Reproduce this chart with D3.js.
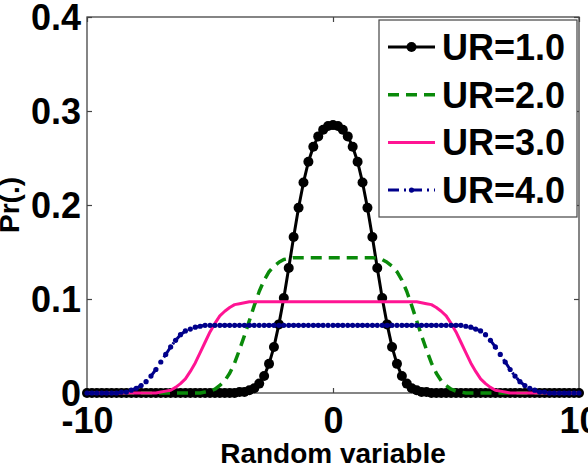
<!DOCTYPE html>
<html>
<head>
<meta charset="utf-8">
<script src="https://cdn.jsdelivr.net/npm/d3@7"></script>
<style>
  body { margin: 0; background: #fff; }
  svg { display: block; font-family: "Liberation Sans", Arial, Helvetica, sans-serif; font-weight: bold; }
</style>
</head>
<body>
<svg width="588" height="466"></svg>
<script>
// sample points along the random variable axis
const xs = [
  -10, -9.8, -9.6, -9.4, -9.2, -9, -8.8, -8.6, -8.4, -8.2,
  -8, -7.8, -7.6, -7.4, -7.2, -7, -6.8, -6.6, -6.4, -6.2,
  -6, -5.8, -5.6, -5.4, -5.2, -5, -4.8, -4.6, -4.4, -4.2,
  -4, -3.8, -3.6, -3.4, -3.2, -3, -2.8, -2.6, -2.4, -2.2,
  -2, -1.8, -1.6, -1.4, -1.2, -1, -0.8, -0.6, -0.4, -0.2,
  0,
  0.2, 0.4, 0.6, 0.8, 1, 1.2, 1.4, 1.6, 1.8, 2,
  2.2, 2.4, 2.6, 2.8, 3, 3.2, 3.4, 3.6, 3.8, 4,
  4.2, 4.4, 4.6, 4.8, 5, 5.2, 5.4, 5.6, 5.8, 6,
  6.2, 6.4, 6.6, 6.8, 7, 7.2, 7.4, 7.6, 7.8, 8,
  8.2, 8.4, 8.6, 8.8, 9, 9.2, 9.4, 9.6, 9.8, 10
];

const ur1 = [
  0, 0, 0, 0, 0, 0, 0, 0, 0, 0,
  0, 0, 0, 0, 0, 0, 0, 0, 0, 0,
  0, 0, 0, 0, 0, 0, 0, 0, 0, 0,
  0, 0.001, 0.001, 0.003, 0.005, 0.010, 0.018, 0.031, 0.049, 0.073,
  0.101, 0.133, 0.166, 0.197, 0.224, 0.246, 0.262, 0.273, 0.280, 0.284,
  0.285,
  0.284, 0.280, 0.273, 0.262, 0.246, 0.224, 0.197, 0.166, 0.133, 0.101,
  0.073, 0.049, 0.031, 0.018, 0.010, 0.005, 0.003, 0.001, 0.001, 0,
  0, 0, 0, 0, 0, 0, 0, 0, 0, 0,
  0, 0, 0, 0, 0, 0, 0, 0, 0, 0,
  0, 0, 0, 0, 0, 0, 0, 0, 0, 0
];

const ur2 = [
  0, 0, 0, 0, 0, 0, 0, 0, 0, 0,
  0, 0, 0, 0, 0, 0, 0, 0, 0, 0,
  0, 0, 0, 0, 0.001, 0.002, 0.004, 0.008, 0.013, 0.021,
  0.032, 0.046, 0.061, 0.077, 0.093, 0.108, 0.120, 0.129, 0.135, 0.139,
  0.142, 0.143, 0.144, 0.144, 0.144, 0.144, 0.144, 0.144, 0.144, 0.144,
  0.144,
  0.144, 0.144, 0.144, 0.144, 0.144, 0.144, 0.144, 0.144, 0.143, 0.142,
  0.139, 0.135, 0.129, 0.120, 0.108, 0.093, 0.077, 0.061, 0.046, 0.032,
  0.021, 0.013, 0.008, 0.004, 0.002, 0.001, 0, 0, 0, 0,
  0, 0, 0, 0, 0, 0, 0, 0, 0, 0,
  0, 0, 0, 0, 0, 0, 0, 0, 0, 0
];

const ur3 = [
  0, 0, 0, 0, 0, 0, 0, 0, 0, 0,
  0, 0, 0, 0, 0, 0.001, 0.002, 0.003, 0.006, 0.010,
  0.015, 0.023, 0.032, 0.043, 0.054, 0.065, 0.074, 0.082, 0.087, 0.091,
  0.094, 0.095, 0.096, 0.097, 0.097, 0.097, 0.097, 0.097, 0.097, 0.097,
  0.097, 0.097, 0.097, 0.097, 0.097, 0.097, 0.097, 0.097, 0.097, 0.097,
  0.097,
  0.097, 0.097, 0.097, 0.097, 0.097, 0.097, 0.097, 0.097, 0.097, 0.097,
  0.097, 0.097, 0.097, 0.097, 0.097, 0.097, 0.097, 0.096, 0.095, 0.094,
  0.091, 0.087, 0.082, 0.074, 0.065, 0.054, 0.043, 0.032, 0.023, 0.015,
  0.010, 0.006, 0.003, 0.002, 0.001, 0, 0, 0, 0, 0,
  0, 0, 0, 0, 0, 0, 0, 0, 0, 0
];

const ur4 = [
  0, 0, 0, 0, 0, 0, 0, 0.001, 0.001, 0.003,
  0.005, 0.008, 0.012, 0.018, 0.025, 0.033, 0.041, 0.049, 0.056, 0.062,
  0.066, 0.068, 0.070, 0.071, 0.072, 0.072, 0.072, 0.072, 0.072, 0.072,
  0.072, 0.072, 0.072, 0.072, 0.072, 0.072, 0.072, 0.072, 0.072, 0.072,
  0.072, 0.072, 0.072, 0.072, 0.072, 0.072, 0.072, 0.072, 0.072, 0.072,
  0.072,
  0.072, 0.072, 0.072, 0.072, 0.072, 0.072, 0.072, 0.072, 0.072, 0.072,
  0.072, 0.072, 0.072, 0.072, 0.072, 0.072, 0.072, 0.072, 0.072, 0.072,
  0.072, 0.072, 0.072, 0.072, 0.072, 0.072, 0.071, 0.070, 0.068, 0.066,
  0.062, 0.056, 0.049, 0.041, 0.033, 0.025, 0.018, 0.012, 0.008, 0.005,
  0.003, 0.001, 0.001, 0, 0, 0, 0, 0, 0, 0
];

const labels = ["UR=1.0", "UR=2.0", "UR=3.0", "UR=4.0"];
const xTicks = [-10, 0, 10];
const yTicks = [0, 0.1, 0.2, 0.3, 0.4];

const series = [
  { name: labels[0], values: ur1, color: "#000000", dash: null, marker: 5, width: 3 },
  { name: labels[1], values: ur2, color: "#0a8a0a", dash: "11,7", marker: 0, width: 3.5 },
  { name: labels[2], values: ur3, color: "#ff1493", dash: null, marker: 0, width: 3 },
  { name: labels[3], values: ur4, color: "#00008b", dash: "11,5,2,5", marker: 2.6, width: 3 }
];

const svg = d3.select("svg");
const mLeft = 87, mRight = 579, mTop = 17, mBottom = 393;

const x = d3.scaleLinear().domain([-10, 10]).range([mLeft, mRight]);
const y = d3.scaleLinear().domain([0, 0.4]).range([mBottom, mTop]);

// axes box
svg.append("rect")
  .attr("x", mLeft).attr("y", mTop)
  .attr("width", mRight - mLeft).attr("height", mBottom - mTop)
  .attr("fill", "none").attr("stroke", "#444").attr("stroke-width", 1.3);

const yAxis = svg.append("g")
  .attr("transform", `translate(${mLeft},0)`)
  .call(d3.axisLeft(y).tickValues(yTicks).tickSize(-5).tickPadding(6)
    .tickFormat(d => d === 0 ? "0" : d.toFixed(1)));
yAxis.select(".domain").remove();
yAxis.selectAll("text").attr("font-size", 36).attr("fill", "#000").attr("dy", "0.36em")
  .attr("font-family", "Liberation Sans, Arial, sans-serif").attr("font-weight", "bold");

const xAxis = svg.append("g")
  .attr("transform", `translate(0,${mBottom})`)
  .call(d3.axisBottom(x).tickValues(xTicks).tickSize(-5).tickFormat(d => String(d)));
xAxis.select(".domain").remove();
xAxis.selectAll("text").attr("font-size", 36).attr("fill", "#000").attr("y", 40).attr("dy", 0)
  .attr("font-family", "Liberation Sans, Arial, sans-serif").attr("font-weight", "bold");

const rAxis = svg.append("g")
  .attr("transform", `translate(${mRight},0)`)
  .call(d3.axisRight(y).tickValues(yTicks).tickSize(-5).tickFormat(""));
rAxis.select(".domain").remove();

const tAxis = svg.append("g")
  .attr("transform", `translate(0,${mTop})`)
  .call(d3.axisTop(x).tickValues(xTicks).tickSize(-5).tickFormat(""));
tAxis.select(".domain").remove();

svg.selectAll(".tick line").attr("stroke", "#444").attr("stroke-width", 1.2);

// axis titles
svg.append("text")
  .attr("x", 333).attr("y", 463)
  .attr("text-anchor", "middle").attr("font-size", 28)
  .text("Random variable");

svg.append("text")
  .attr("transform", "translate(19,205) rotate(-90)")
  .attr("text-anchor", "middle").attr("font-size", 28)
  .text("Pr(.)");

// curves
const line = d3.line().x(d => x(d[0])).y(d => y(d[1]));

series.forEach(s => {
  const pts = xs.map((v, i) => [v, s.values[i]]);
  svg.append("path")
    .datum(pts)
    .attr("d", line)
    .attr("fill", "none")
    .attr("stroke", s.color)
    .attr("stroke-width", s.width)
    .attr("stroke-linejoin", "round")
    .attr("stroke-dasharray", s.dash);
  if (s.marker) {
    svg.append("g")
      .selectAll("circle")
      .data(pts)
      .join("circle")
      .attr("cx", d => x(d[0]))
      .attr("cy", d => y(d[1]))
      .attr("r", s.marker)
      .attr("fill", s.color);
  }
});

// legend
const legend = svg.append("g");
legend.append("rect")
  .attr("x", 379).attr("y", 20).attr("width", 198).attr("height", 197)
  .attr("fill", "#fff").attr("stroke", "#444").attr("stroke-width", 1.2);

const item = legend.selectAll("g.item")
  .data(series)
  .join("g")
  .attr("class", "item")
  .attr("transform", (d, i) => `translate(0,${47 + i * 47.7})`);

item.append("line")
  .attr("x1", 388).attr("x2", 435)
  .attr("stroke", d => d.color)
  .attr("stroke-width", d => d.width)
  .attr("stroke-dasharray", d => d.dash);

item.filter(d => d.marker)
  .append("circle")
  .attr("cx", 411.5).attr("r", d => d.marker).attr("fill", d => d.color);

item.append("text")
  .attr("x", 442).attr("dy", "0.36em")
  .attr("font-size", 36)
  .text(d => d.name);
</script>
</body>
</html>
